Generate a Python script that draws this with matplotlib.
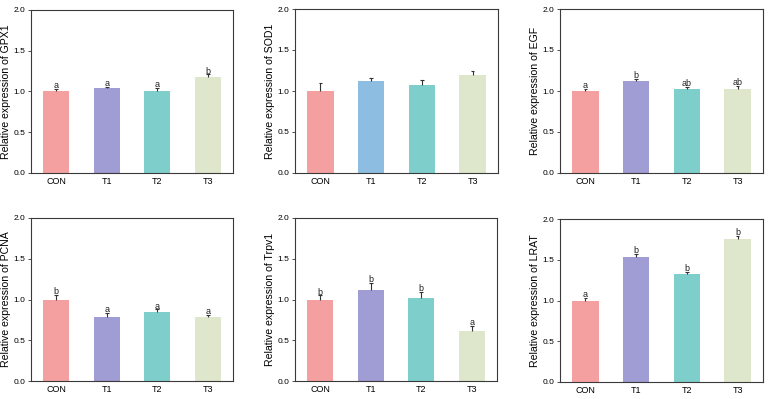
import matplotlib
matplotlib.use("Agg")
import matplotlib.pyplot as plt
import numpy as np

plt.rcParams['font.family'] = ['Liberation Sans', 'DejaVu Sans']

groups = ['CON', 'T1', 'T2', 'T3']
genes = ['GPX1', 'SOD1', 'EGF', 'PCNA', 'Trpv1', 'LRAT']

gpx1 = [1.00, 1.04, 1.01, 1.18]
gpx1_err = [0.03, 0.02, 0.03, 0.03]
gpx1_sig = ['a', 'a', 'a', 'b']

sod1 = [1.00, 1.12, 1.07, 1.19]
sod1_err = [0.10, 0.04, 0.06, 0.05]
sod1_sig = ['', '', '', '']

egf = [1.00, 1.12, 1.03, 1.03]
egf_err = [0.03, 0.03, 0.02, 0.03]
egf_sig = ['a', 'b', 'ab', 'ab']

pcna = [1.00, 0.79, 0.85, 0.78]
pcna_err = [0.06, 0.05, 0.03, 0.03]
pcna_sig = ['b', 'a', 'a', 'a']

trpv1 = [1.00, 1.12, 1.02, 0.61]
trpv1_err = [0.05, 0.08, 0.07, 0.07]
trpv1_sig = ['b', 'b', 'b', 'a']

lrat = [1.00, 1.53, 1.32, 1.75]
lrat_err = [0.03, 0.04, 0.03, 0.04]
lrat_sig = ['a', 'b', 'b', 'b']

values = [gpx1, sod1, egf, pcna, trpv1, lrat]
errors = [gpx1_err, sod1_err, egf_err, pcna_err, trpv1_err, lrat_err]
letters = [gpx1_sig, sod1_sig, egf_sig, pcna_sig, trpv1_sig, lrat_sig]

pal = ['#F4A0A0', '#A09CD4', '#7ECFCC', '#DEE7CB']
pal_sod1 = ['#F4A0A0', '#8DBDE0', '#7ECFCC', '#DEE7CB']

W, H = 768, 399
fig = plt.figure(figsize=(W / 100, H / 100), dpi=100)

# axes boxes in pixels: left, top, right, bottom
boxes = [(31, 10, 233, 173), (295, 9, 498, 173), (560, 9, 763, 173),
         (31, 218, 233, 381), (295, 218, 497, 381), (560, 219, 763, 382)]

x = np.arange(len(groups))
for i, gene in enumerate(genes):
    l, t, r, b = boxes[i]
    ax = fig.add_axes([l / W, 1 - b / H, (r - l) / W, (b - t) / H])
    cols = pal_sod1 if gene == 'SOD1' else pal
    vals = np.array(values[i])
    errs = np.array(errors[i])
    ax.bar(x, vals, width=0.52, color=cols, zorder=2)
    # upper error bar only, T shaped
    ax.vlines(x, vals, vals + errs, color='#333333', lw=0.8, zorder=3)
    ax.hlines(vals + errs, x - 0.035, x + 0.035, color='#333333', lw=0.8, zorder=3)
    for xi, v, e, s in zip(x, vals, errs, letters[i]):
        if s:
            ax.text(xi, v + e - 0.015, s, ha='center', va='bottom', fontsize=6.5, color='#222222')
    ax.set_xlim(-0.5, 3.5)
    ax.set_ylim(0, 2.0)
    ax.set_yticks([0, 0.5, 1.0, 1.5, 2.0])
    ax.set_yticklabels(['0.0', '0.5', '1.0', '1.5', '2.0'])
    ax.set_xticks(x)
    ax.set_xticklabels(groups)
    ax.tick_params(axis='y', labelsize=6, length=2, width=0.6, color='#333333', pad=2)
    ax.tick_params(axis='x', labelsize=6.5, length=0, pad=3)
    ax.set_ylabel('Relative expression of ' + gene, fontsize=7.6, labelpad=2)
    for sp in ax.spines.values():
        sp.set_linewidth(0.8)
        sp.set_color('#3a3a3a')

fig.savefig('out.png', dpi=100)
